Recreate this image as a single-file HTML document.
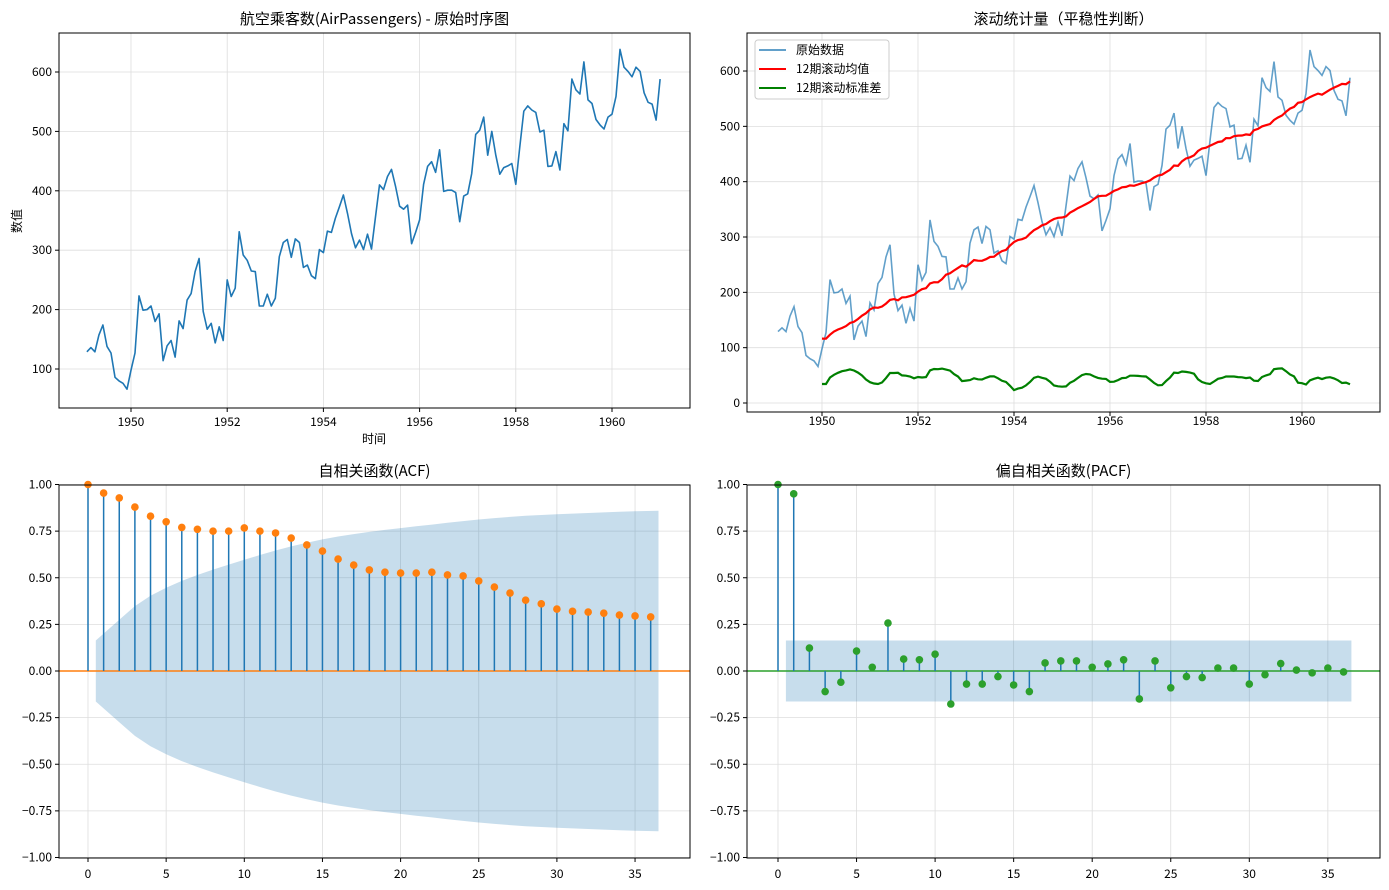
<!DOCTYPE html>
<html><head><meta charset="utf-8">
<style>
html,body{margin:0;padding:0;background:#fff;}
svg{display:block;font-family:"WenQuanYi Zen Hei","Noto Sans CJK SC",sans-serif;}
</style></head>
<body>
<svg id="chart" width="1389" height="890" viewBox="0 0 1389 890" xmlns="http://www.w3.org/2000/svg"></svg>
<script>
const passengers = [129,136,129,157,174,138,127,86,80,76,66,98,127,223,199,200,206,180,193,114,139,148,120,181,168,216,227,264,286,197,167,177,144,171,148,250,222,236,331,292,283,265,264,206,206,226,206,219,289,313,318,288,319,313,271,275,257,252,301,296,332,330,354,373,393,362,328,304,317,301,327,302,356,410,402,424,
436,407,374,369,376,311,330,351,411,441,449,431,469,399,401,401,397,348,391,395,429,495,502,524,460,500,460,428,439,442,446,411,474,534,543,536,532,499,502,441,442,466,435,513,501,588,570,563,617,553,547,520,511,504,524,529,559,638,608,601,592,608,601,565,549,546,519,588];
const acfValues = [1.00,0.954,0.928,0.879,0.83,0.80,0.77,0.76,0.75,0.75,0.767,0.75,0.74,0.713,0.676,0.643,0.60,0.568,0.542,0.53,0.525,0.525,0.53,0.515,0.51,0.483,0.45,0.418,0.38,0.36,0.332,0.32,0.316,0.31,0.30,0.295,0.29];
const pacfValues = [1.00,0.95,0.123,-0.11,-0.06,0.107,0.02,0.257,0.064,0.06,0.09,-0.177,-0.07,-0.07,-0.03,-0.075,-0.11,0.043,0.054,0.054,0.02,0.038,0.06,-0.15,0.054,-0.09,-0.03,-0.035,0.016,0.016,-0.07,-0.02,0.04,0.005,-0.01,0.016,-0.005];
const yearTicks = [1950,1952,1954,1956,1958,1960];
const tlYTicks = [100,200,300,400,500,600];
const trYTicks = [0,100,200,300,400,500,600];
const corrYTicks = [-1,-0.75,-0.5,-0.25,0,0.25,0.5,0.75,1];
const lagTicks = [0,5,10,15,20,25,30,35];

const NS='http://www.w3.org/2000/svg';
const svg=document.getElementById('chart');
function mk(tag,attrs,parent){const e=document.createElementNS(NS,tag);for(const k in attrs)e.setAttribute(k,attrs[k]);(parent||svg).appendChild(e);return e;}
function txt(s,x,y,anchor,size,parent){const t=mk('text',{x:x,y:y,'text-anchor':anchor,'font-size':size,fill:'#000'},parent);t.textContent=s;return t;}

const n=passengers.length;
const times=passengers.map((v,i)=>1949+(i+1)/12);

// axis functions
const tlX=t=>131+(t-1950)*48.1, tlY=v=>369-(v-100)*0.594;
const trX=t=>822+(t-1950)*48.0, trY=v=>403-v*0.5533;
const blX=l=>88+l*15.63, blY=v=>671-v*186.5;
const brX=l=>778+l*15.71, brY=v=>671-v*186.5;

function panel(name,L,R,T,B,xt,xf,xfmt,yt,yf,yfmt,title,tickY){
  const g=mk('g',{});
  
  
  const grid=mk('g',{stroke:'#dddddd','stroke-width':0.8},g);
  
  
  xt.forEach(v=>{mk('line',{x1:xf(v),x2:xf(v),y1:T,y2:B},grid);});
  yt.forEach(v=>{mk('line',{x1:L,x2:R,y1:yf(v),y2:yf(v)},grid);});
  const xa=mk('g',{},g);
  
  
  xt.forEach(v=>{mk('line',{x1:xf(v),x2:xf(v),y1:B,y2:B+4,stroke:'#000'},xa);const t=txt(xfmt(v),xf(v),tickY,'middle',12,xa);});
  const ya=mk('g',{},g);
  
  
  yt.forEach(v=>{mk('line',{x1:L-4,x2:L,y1:yf(v),y2:yf(v),stroke:'#000'},ya);const t=txt(yfmt(v),L-7,yf(v)+4,'end',12,ya);});
  const tt=txt(title,(L+R)/2,T-9,'middle',15,g);
  
  
  return g;
}
function frame(g,L,R,T,B){const r=mk('rect',{x:L,y:T,width:R-L,height:B-T,fill:'none',stroke:'#000','stroke-width':1},g);}
function linePath(xs,ys,attrs,g,name){const d=xs.map((x,i)=>(i?'L':'M')+x.toFixed(1)+','+ys[i].toFixed(1)).join('');const p=mk('path',Object.assign({d:d,fill:'none'},attrs),g);return p;}

// Top-left
let g=panel('raw-series-panel',59,690,33,408,yearTicks,tlX,v=>String(v),tlYTicks,tlY,v=>String(v),'航空乘客数(AirPassengers) - 原始时序图',426);
linePath(times.map(tlX),passengers.map(tlY),{stroke:'#1f77b4','stroke-width':1.6,'stroke-linejoin':'round'},g,'passenger-line');
frame(g,59,690,33,408);
let t=txt('时间',374,443,'middle',12,g);
t=txt('数值',0,0,'middle',12,g);t.setAttribute('transform','translate(21,221) rotate(-90)');

// Top-right rolling stats
const rmT=[],rmV=[],rsV=[];
for(let i=11;i<n;i++){const w=passengers.slice(i-11,i+1);const m=w.reduce((a,b)=>a+b,0)/12;const s=Math.sqrt(w.reduce((a,b)=>a+(b-m)*(b-m),0)/11);rmT.push(times[i]);rmV.push(m);rsV.push(s);}
g=panel('rolling-stats-panel',747,1380,33,412,yearTicks,trX,v=>String(v),trYTicks,trY,v=>String(v),'滚动统计量（平稳性判断）',425);
linePath(times.map(trX),passengers.map(trY),{stroke:'#1f77b4','stroke-opacity':0.7,'stroke-width':1.6},g,'raw-data-line');
linePath(rmT.map(trX),rmV.map(trY),{stroke:'#ff0000','stroke-width':2.2},g,'rolling-mean-line');
linePath(rmT.map(trX),rsV.map(trY),{stroke:'#008000','stroke-width':2.2},g,'rolling-std-line');
frame(g,747,1380,33,412);
const lg=mk('g',{},g);


mk('rect',{x:755,y:40,width:134,height:59,rx:3,fill:'#fff','fill-opacity':0.85,stroke:'#cccccc'},lg);
[['原始数据','#1f77b4',0.7],['12期滚动均值','#ff0000',1],['12期滚动标准差','#008000',1]].forEach((e,i)=>{
  const eg=mk('g',{},lg);
  
  
  const yy=50+i*19;
  mk('line',{x1:759,x2:786,y1:yy,y2:yy,stroke:e[1],'stroke-opacity':e[2],'stroke-width':2},eg);
  txt(e[0],796,yy+4,'start',12,eg);
});

// ACF
function corrPanel(name,title,vals,xf,yf,L,R,markerColor,bandFn){
  const g=panel(name,L,R,485,858,lagTicks,xf,v=>String(v),corrYTicks,yf,v=>v.toFixed(2).replace('-','−'),title,878);
  // band
  const lags=[],ub=[],lb=[];
  for(let k=1;k<vals.length;k++){let x=k;if(k===1)x=0.5;if(k===vals.length-1)x=k+0.5;lags.push(x);const c=bandFn(k);ub.push(c);lb.push(-c);}
  const pts=lags.map((x,i)=>xf(x).toFixed(1)+','+yf(ub[i]).toFixed(1)).concat(lags.slice().reverse().map((x,i)=>xf(x).toFixed(1)+','+yf(lb[lb.length-1-i]).toFixed(1)));
  const band=mk('polygon',{points:pts.join(' '),fill:'#1f77b4','fill-opacity':0.25},g);
  
  
  const zl=mk('line',{x1:L,x2:R,y1:yf(0),y2:yf(0),stroke:markerColor,'stroke-width':1.5},g);
  
  
  vals.forEach((v,k)=>{
    const st=mk('line',{x1:xf(k),x2:xf(k),y1:yf(0),y2:yf(v),stroke:'#1f77b4','stroke-width':1.5},g);
    
    
    const c=mk('circle',{cx:xf(k),cy:yf(v),r:3.8,fill:markerColor},g);
    
    
  });
  frame(g,L,R,485,858);
}
const z=1.96/Math.sqrt(n);
corrPanel('acf-panel','自相关函数(ACF)',acfValues,blX,blY,59,690,'#ff7f0e',k=>{let s=0;for(let j=1;j<k;j++)s+=acfValues[j]*acfValues[j];return z*Math.sqrt(1+2*s);});
corrPanel('pacf-panel','偏自相关函数(PACF)',pacfValues,brX,brY,747,1380,'#2ca02c',k=>z);
</script>
</body></html>
